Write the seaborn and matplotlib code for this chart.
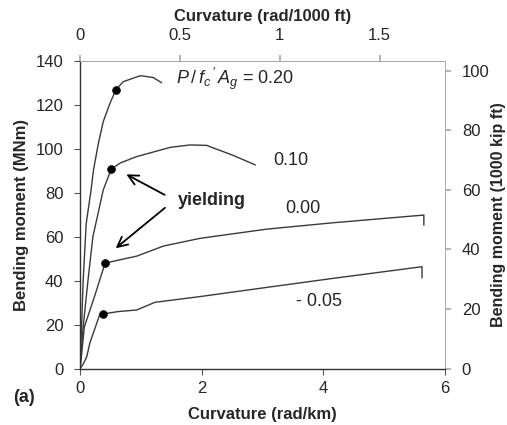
import numpy as np
import pandas as pd
import matplotlib
matplotlib.use("Agg")
import matplotlib.pyplot as plt
import seaborn as sns

sns.set_theme(style="white")
plt.rcParams['font.family'] = ['Liberation Sans', 'DejaVu Sans']
plt.rcParams['mathtext.fontset'] = 'custom'
plt.rcParams['mathtext.it'] = 'Liberation Sans:italic'
plt.rcParams['mathtext.rm'] = 'Liberation Sans'

# moment-curvature curves, curvature in rad/km, moment in MNm
curv_020 = [0, 0.05, 0.10, 0.18, 0.22, 0.30, 0.38, 0.49, 0.59, 0.71, 0.99, 1.20, 1.34]
mom_020 = [0, 40, 66, 81.3, 90.4, 102.5, 112.4, 120.7, 127, 130.6, 133.3, 132.5, 130.1]

curv_010 = [0, 0.05, 0.13, 0.21, 0.38, 0.51, 0.66, 0.93, 1.48, 1.81, 2.08, 2.52, 2.88]
mom_010 = [0, 19, 40.3, 60, 81.3, 90.7, 93.6, 96.5, 100.7, 101.8, 101.6, 97, 92.7]

curv_000 = [0, 0.07, 0.25, 0.41, 0.63, 0.93, 1.37, 1.97, 3.07, 4.16, 5.65, 5.65]
mom_000 = [0, 19, 34, 48, 49.4, 51.2, 55.8, 59.3, 63.5, 66.4, 69.9, 65.3]

curv_m005 = [0, 0.05, 0.11, 0.16, 0.32, 0.37, 0.63, 0.93, 1.23, 1.97, 3.07, 4.16, 5.62, 5.62]
mom_m005 = [0, 2, 5.5, 11.7, 24.4, 24.9, 26, 26.7, 30.2, 32.8, 37, 41.1, 46.4, 41.3]

# yielding points
yield_curv = [0.59, 0.51, 0.41, 0.37]
yield_mom = [127, 90.7, 48, 24.9]

curves = {"0.20": (curv_020, mom_020), "0.10": (curv_010, mom_010),
          "0.00": (curv_000, mom_000), "-0.05": (curv_m005, mom_m005)}
df = pd.concat([pd.DataFrame({"curv": c, "mom": m, "P": k})
                for k, (c, m) in curves.items()], ignore_index=True)
dots = pd.DataFrame({"curv": yield_curv, "mom": yield_mom})

fig = plt.figure(figsize=(5.07, 4.25), dpi=100)
ax = fig.add_axes([0.158, 0.1325, 0.72, 0.724])

sns.lineplot(data=df, x="curv", y="mom", units="P", estimator=None, sort=False,
             color="#3a3a3a", linewidth=1.0, ax=ax)
sns.scatterplot(data=dots, x="curv", y="mom", color="black", s=32,
                edgecolor="black", zorder=5, ax=ax)

ax.set_xlim(0, 6)
ax.set_ylim(0, 140)
ax.set_xticks([0, 2, 4, 6])
ax.set_yticks(range(0, 141, 20))
ax.set_xlabel("Curvature (rad/km)", fontsize=12, fontweight="bold", labelpad=8)
ax.set_ylabel("Bending moment (MNm)", fontsize=12, fontweight="bold", labelpad=5)
ax.tick_params(axis="both", labelsize=12, length=4, width=0.8, color="#555555",
               direction="out", bottom=True, left=True)
ax.tick_params(axis="y", pad=8)
ax.tick_params(axis="x", pad=5)
for s in ["left", "bottom"]:
    ax.spines[s].set_color("#333333")
    ax.spines[s].set_linewidth(1.0)
for s in ["top", "right"]:
    ax.spines[s].set_color("#aaaaaa")
    ax.spines[s].set_linewidth(0.7)

# secondary axes (imperial units)
ft = 0.3048
kipft = 1.3558
top = ax.secondary_xaxis("top", functions=(lambda x: x * ft, lambda x: x / ft))
top.set_xticks([0, 0.5, 1, 1.5], ["0", "0.5", "1", "1.5"])
top.set_xlabel("Curvature (rad/1000 ft)", fontsize=12, fontweight="bold", labelpad=5)
top.tick_params(labelsize=12, length=4, color="#aaaaaa", pad=9)
top.spines["top"].set_color("#aaaaaa")
top.spines["top"].set_linewidth(0.7)

right = ax.secondary_yaxis("right", functions=(lambda y: y / kipft, lambda y: y * kipft))
right.set_yticks(range(0, 101, 20))
right.set_ylabel("Bending moment (1000 kip ft)", fontsize=11.5, fontweight="bold", labelpad=1)
right.tick_params(labelsize=12, length=4, color="#aaaaaa", pad=8)
right.spines["right"].set_color("#aaaaaa")
right.spines["right"].set_linewidth(0.7)

# curve labels
ax.text(1.57, 132, r"$P\,/\,f_c\,'\,A_g$ = 0.20", fontsize=13, va="center")
ax.text(3.18, 94.5, "0.10", fontsize=13, va="center")
ax.text(3.38, 73, "0.00", fontsize=13, va="center")
ax.text(3.55, 30.5, "- 0.05", fontsize=13, va="center")

ax.text(1.6, 76.5, "yielding", fontsize=13, fontweight="bold", va="center")
ax.annotate("", xy=(0.72, 89), xytext=(1.43, 78.5),
            arrowprops=dict(arrowstyle="->", color="black", lw=1.3, mutation_scale=18))
ax.annotate("", xy=(0.55, 54), xytext=(1.43, 74),
            arrowprops=dict(arrowstyle="->", color="black", lw=1.3, mutation_scale=18))

fig.text(13 / 507, 1 - 398 / 425, "(a)", fontsize=13, fontweight="bold", va="center")

fig.savefig("out.png", dpi=100)
